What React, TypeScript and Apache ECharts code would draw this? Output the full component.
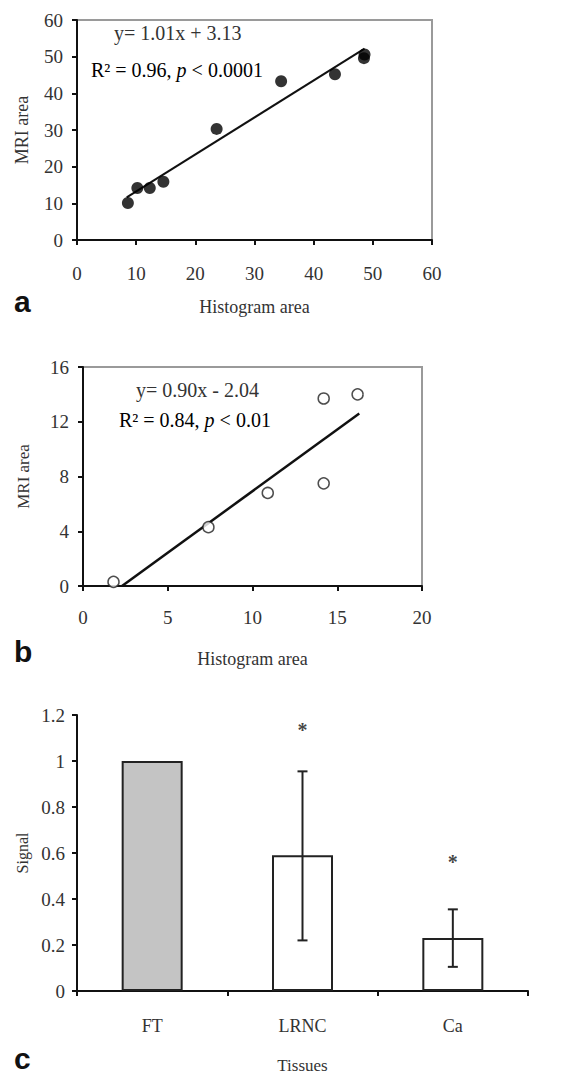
import React, { useEffect, useRef } from "react";
import * as echarts from "echarts";

// Panel a: filled points
const histA = [8.6, 10.2, 12.3, 14.6, 23.6, 34.5, 43.6, 48.5, 48.6];
const mriA = [10.1, 14.2, 14.2, 15.9, 30.3, 43.3, 45.2, 49.6, 50.6];
const fitA = [
  [8.4, 11.6],
  [48.6, 52.2],
];
// Panel b: open points
const histB = [1.8, 7.4, 10.9, 14.2, 14.2, 16.2];
const mriB = [0.3, 4.3, 6.8, 13.7, 7.5, 14.0];
const fitB = [
  [2.3, 0.0],
  [16.3, 12.6],
];
// Panel c: bars
const tissues = ["FT", "LRNC", "Ca"];
const signal = [1.0, 0.59, 0.23];
const errLow = [null, 0.22, 0.105];
const errHigh = [null, 0.955, 0.355];
const starY = [null, 1.15, 0.575];

const SERIF = "'Liberation Serif', 'DejaVu Serif', serif";
const SANS = "'Liberation Sans', Arial, sans-serif";

export default function App() {
  const ref = useRef<HTMLDivElement>(null);
  useEffect(() => {
    document.body.style.margin = "0";
    const chart = echarts.init(ref.current!, undefined, { renderer: "svg" });

    const axisLine = { show: true, onZero: false, lineStyle: { color: "#111", width: 2 } };
    const axisTick = { show: true, length: 5, lineStyle: { color: "#111", width: 2 } };
    const tickLabel = (margin: number, size = 19) => ({
      margin,
      fontFamily: SERIF,
      fontSize: size,
      color: "#333",
    });
    const nameStyle = (size = 18) => ({ fontFamily: SERIF, fontSize: size, color: "#333" });

    const ptsA = histA.map((x, i) => [x, mriA[i]]);
    const ptsB = histB.map((x, i) => [x, mriB[i]]);

    const option: any = {
      animation: false,
      backgroundColor: "#fff",
      grid: [
        { left: 77, top: 20, width: 355, height: 220, show: true, borderColor: "#9a9a9a", borderWidth: 2 },
        { left: 83, top: 367, width: 339, height: 219, show: true, borderColor: "#9a9a9a", borderWidth: 2 },
        { left: 77, top: 715, width: 451, height: 279, show: false },
      ],
      xAxis: [
        {
          gridIndex: 0, type: "value", min: 0, max: 60, interval: 10,
          axisLine, axisTick, splitLine: { show: false },
          axisLabel: tickLabel(24),
          name: "Histogram area", nameLocation: "middle", nameGap: 58, nameTextStyle: nameStyle(),
        },
        {
          gridIndex: 1, type: "value", min: 0, max: 20, interval: 5,
          axisLine, axisTick, splitLine: { show: false },
          axisLabel: tickLabel(22),
          name: "Histogram area", nameLocation: "middle", nameGap: 64, nameTextStyle: nameStyle(),
        },
        {
          gridIndex: 2, type: "category", data: tissues,
          axisLine, axisTick: { show: true, length: 5, lineStyle: { color: "#111", width: 2 } },
          axisLabel: { ...tickLabel(26, 18) },
          name: "Tissues", nameLocation: "middle", nameGap: 66, nameTextStyle: nameStyle(17),
        },
      ],
      yAxis: [
        {
          gridIndex: 0, type: "value", min: 0, max: 60, interval: 10,
          axisLine, axisTick, splitLine: { show: false },
          axisLabel: tickLabel(14),
          name: "MRI area", nameLocation: "middle", nameGap: 46, nameTextStyle: nameStyle(),
        },
        {
          gridIndex: 1, type: "value", min: 0, max: 16, interval: 4,
          axisLine, axisTick, splitLine: { show: false },
          axisLabel: tickLabel(14),
          name: "MRI area", nameLocation: "middle", nameGap: 51, nameTextStyle: nameStyle(17),
        },
        {
          gridIndex: 2, type: "value", min: 0, max: 1.2, interval: 0.2,
          axisLine, axisTick, splitLine: { show: false },
          axisLabel: tickLabel(12),
          name: "Signal", nameLocation: "middle", nameGap: 47, nameTextStyle: nameStyle(16),
        },
      ],
      series: [
        {
          type: "line", xAxisIndex: 0, yAxisIndex: 0, data: fitA, symbol: "none",
          lineStyle: { color: "#111", width: 2 }, z: 2,
        },
        {
          type: "scatter", xAxisIndex: 0, yAxisIndex: 0, data: ptsA, symbol: "circle", symbolSize: 12,
          itemStyle: { color: "#000" }, z: 3,
        },
        {
          type: "line", xAxisIndex: 1, yAxisIndex: 1, data: fitB, symbol: "none",
          lineStyle: { color: "#111", width: 2.5 }, z: 2,
        },
        {
          type: "scatter", xAxisIndex: 1, yAxisIndex: 1, data: ptsB, symbol: "circle", symbolSize: 11,
          itemStyle: { color: "#fff", borderColor: "#222", borderWidth: 1.5 }, z: 3,
        },
        {
          type: "bar", xAxisIndex: 2, yAxisIndex: 2, barWidth: 61,
          data: signal.map((v, i) => ({
            value: v,
            itemStyle: { color: i === 0 ? "#c4c4c4" : "#fff", borderColor: "#222", borderWidth: 2 },
          })),
          z: 2,
        },
        {
          type: "custom", xAxisIndex: 2, yAxisIndex: 2, z: 4,
          data: tissues.map((_, i) => [i, errLow[i], errHigh[i]]).filter((d) => d[1] != null),
          renderItem: (params: any, api: any) => {
            const x = api.value(0);
            const lo = api.coord([x, api.value(1)]);
            const hi = api.coord([x, api.value(2)]);
            const cap = 5;
            const style = { stroke: "#222", lineWidth: 2 };
            return {
              type: "group",
              children: [
                { type: "line", shape: { x1: lo[0], y1: lo[1], x2: hi[0], y2: hi[1] }, style },
                { type: "line", shape: { x1: lo[0] - cap, y1: lo[1], x2: lo[0] + cap, y2: lo[1] }, style },
                { type: "line", shape: { x1: hi[0] - cap, y1: hi[1], x2: hi[0] + cap, y2: hi[1] }, style },
              ],
            };
          },
        },
        {
          type: "scatter", xAxisIndex: 2, yAxisIndex: 2, symbolSize: 0,
          data: tissues.map((_, i) => [i, starY[i]]).filter((d) => d[1] != null),
          label: {
            show: true, position: "inside", formatter: "*",
            fontFamily: SERIF, fontSize: 20, fontWeight: "bold", color: "#111", offset: [0, 3],
          },
        },
      ],
      graphic: [
        {
          type: "text", left: 114, top: 23,
          style: { text: "y= 1.01x + 3.13", font: `20px ${SERIF}`, fill: "#333" },
        },
        {
          type: "text", left: 91, top: 60,
          style: {
            text: "{n|R² = 0.96, }{i|p}{n| < 0.0001}",
            rich: {
              n: { fontFamily: SERIF, fontSize: 20, color: "#333" },
              i: { fontFamily: SERIF, fontSize: 20, fontStyle: "italic", color: "#333" },
            },
          },
        },
        {
          type: "text", left: 136, top: 380,
          style: { text: "y= 0.90x - 2.04", font: `20px ${SERIF}`, fill: "#333" },
        },
        {
          type: "text", left: 119, top: 410,
          style: {
            text: "{n|R² = 0.84, }{i|p}{n| < 0.01}",
            rich: {
              n: { fontFamily: SERIF, fontSize: 20, color: "#333" },
              i: { fontFamily: SERIF, fontSize: 20, fontStyle: "italic", color: "#333" },
            },
          },
        },
        { type: "text", left: 14, top: 286, style: { text: "a", font: `bold 30px ${SANS}`, fill: "#111" } },
        { type: "text", left: 14, top: 636, style: { text: "b", font: `bold 30px ${SANS}`, fill: "#111" } },
        { type: "text", left: 14, top: 1043, style: { text: "c", font: `bold 30px ${SANS}`, fill: "#111" } },
      ],
    };
    chart.setOption(option);
    return () => chart.dispose();
  }, []);
  return <div ref={ref} style={{ width: 576, height: 1075 }} />;
}
